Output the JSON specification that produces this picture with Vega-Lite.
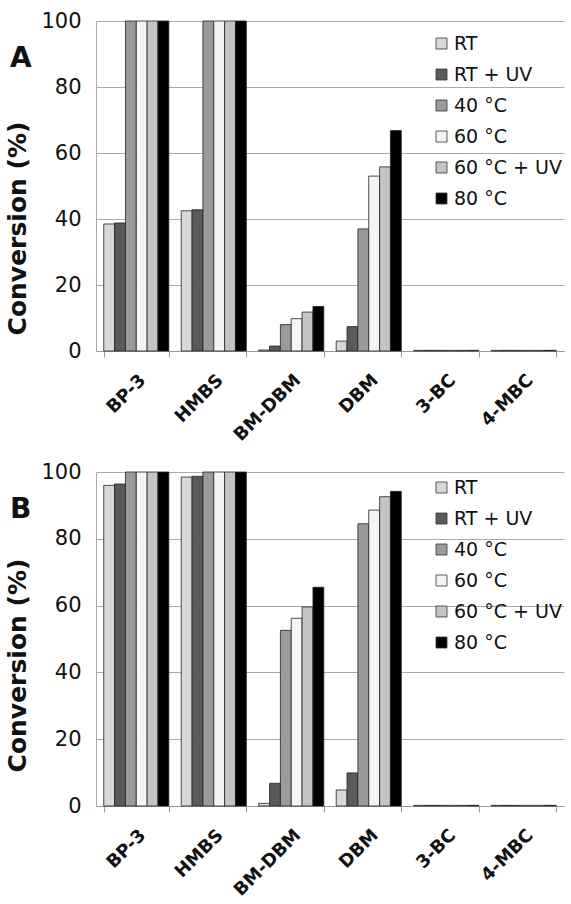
{
  "$schema": "https://vega.github.io/schema/vega-lite/v6.json",
  "padding": {"left": 5, "top": 10, "right": 2, "bottom": 2},
  "background": "white",
  "datasets": {
    "A": [
      {"compound": "BP-3", "condition": "RT", "value": 38.5},
      {"compound": "BP-3", "condition": "RT + UV", "value": 38.8},
      {"compound": "BP-3", "condition": "40 °C", "value": 100},
      {"compound": "BP-3", "condition": "60 °C", "value": 100},
      {"compound": "BP-3", "condition": "60 °C + UV", "value": 100},
      {"compound": "BP-3", "condition": "80 °C", "value": 100},
      {"compound": "HMBS", "condition": "RT", "value": 42.5},
      {"compound": "HMBS", "condition": "RT + UV", "value": 42.8},
      {"compound": "HMBS", "condition": "40 °C", "value": 100},
      {"compound": "HMBS", "condition": "60 °C", "value": 100},
      {"compound": "HMBS", "condition": "60 °C + UV", "value": 100},
      {"compound": "HMBS", "condition": "80 °C", "value": 100},
      {"compound": "BM-DBM", "condition": "RT", "value": 0.3},
      {"compound": "BM-DBM", "condition": "RT + UV", "value": 1.5},
      {"compound": "BM-DBM", "condition": "40 °C", "value": 8.0},
      {"compound": "BM-DBM", "condition": "60 °C", "value": 9.8},
      {"compound": "BM-DBM", "condition": "60 °C + UV", "value": 11.8},
      {"compound": "BM-DBM", "condition": "80 °C", "value": 13.5},
      {"compound": "DBM", "condition": "RT", "value": 3.0},
      {"compound": "DBM", "condition": "RT + UV", "value": 7.4},
      {"compound": "DBM", "condition": "40 °C", "value": 37.0},
      {"compound": "DBM", "condition": "60 °C", "value": 53.0},
      {"compound": "DBM", "condition": "60 °C + UV", "value": 55.8},
      {"compound": "DBM", "condition": "80 °C", "value": 66.8},
      {"compound": "3-BC", "condition": "RT", "value": 0.2},
      {"compound": "3-BC", "condition": "RT + UV", "value": 0.2},
      {"compound": "3-BC", "condition": "40 °C", "value": 0.2},
      {"compound": "3-BC", "condition": "60 °C", "value": 0.2},
      {"compound": "3-BC", "condition": "60 °C + UV", "value": 0.2},
      {"compound": "3-BC", "condition": "80 °C", "value": 0.2},
      {"compound": "4-MBC", "condition": "RT", "value": 0.2},
      {"compound": "4-MBC", "condition": "RT + UV", "value": 0.2},
      {"compound": "4-MBC", "condition": "40 °C", "value": 0.2},
      {"compound": "4-MBC", "condition": "60 °C", "value": 0.2},
      {"compound": "4-MBC", "condition": "60 °C + UV", "value": 0.2},
      {"compound": "4-MBC", "condition": "80 °C", "value": 0.2}
    ],
    "B": [
      {"compound": "BP-3", "condition": "RT", "value": 96.0},
      {"compound": "BP-3", "condition": "RT + UV", "value": 96.4},
      {"compound": "BP-3", "condition": "40 °C", "value": 100},
      {"compound": "BP-3", "condition": "60 °C", "value": 100},
      {"compound": "BP-3", "condition": "60 °C + UV", "value": 100},
      {"compound": "BP-3", "condition": "80 °C", "value": 100},
      {"compound": "HMBS", "condition": "RT", "value": 98.5},
      {"compound": "HMBS", "condition": "RT + UV", "value": 98.7},
      {"compound": "HMBS", "condition": "40 °C", "value": 100},
      {"compound": "HMBS", "condition": "60 °C", "value": 100},
      {"compound": "HMBS", "condition": "60 °C + UV", "value": 100},
      {"compound": "HMBS", "condition": "80 °C", "value": 100},
      {"compound": "BM-DBM", "condition": "RT", "value": 0.8},
      {"compound": "BM-DBM", "condition": "RT + UV", "value": 6.8},
      {"compound": "BM-DBM", "condition": "40 °C", "value": 52.6},
      {"compound": "BM-DBM", "condition": "60 °C", "value": 56.2},
      {"compound": "BM-DBM", "condition": "60 °C + UV", "value": 59.6},
      {"compound": "BM-DBM", "condition": "80 °C", "value": 65.5},
      {"compound": "DBM", "condition": "RT", "value": 4.8},
      {"compound": "DBM", "condition": "RT + UV", "value": 9.9},
      {"compound": "DBM", "condition": "40 °C", "value": 84.5},
      {"compound": "DBM", "condition": "60 °C", "value": 88.6},
      {"compound": "DBM", "condition": "60 °C + UV", "value": 92.6},
      {"compound": "DBM", "condition": "80 °C", "value": 94.2},
      {"compound": "3-BC", "condition": "RT", "value": 0.2},
      {"compound": "3-BC", "condition": "RT + UV", "value": 0.2},
      {"compound": "3-BC", "condition": "40 °C", "value": 0.2},
      {"compound": "3-BC", "condition": "60 °C", "value": 0.2},
      {"compound": "3-BC", "condition": "60 °C + UV", "value": 0.2},
      {"compound": "3-BC", "condition": "80 °C", "value": 0.2},
      {"compound": "4-MBC", "condition": "RT", "value": 0.2},
      {"compound": "4-MBC", "condition": "RT + UV", "value": 0.2},
      {"compound": "4-MBC", "condition": "40 °C", "value": 0.2},
      {"compound": "4-MBC", "condition": "60 °C", "value": 0.2},
      {"compound": "4-MBC", "condition": "60 °C + UV", "value": 0.2},
      {"compound": "4-MBC", "condition": "80 °C", "value": 0.2}
    ]
  },
  "spacing": 16,
  "resolve": {"scale": {"color": "independent"}, "legend": {"color": "independent"}},
  "vconcat": [
    {
      "data": {"name": "A"},
      "width": 468,
      "height": 330,
      "title": {"text": "A", "anchor": "start", "frame": "group", "dx": -86, "dy": 23, "fontSize": 28, "font": "DejaVu Sans", "fontWeight": "bold", "color": "#111", "offset": -40},
      "mark": {"type": "bar", "stroke": "#222", "strokeWidth": 0.8},
      "encoding": {
        "x": {"field": "compound", "type": "nominal", "sort": ["BP-3", "HMBS", "BM-DBM", "DBM", "3-BC", "4-MBC"], "scale": {"paddingInner": 0.16, "paddingOuter": 0.1}, "title": null},
        "xOffset": {"field": "condition", "type": "nominal", "sort": ["RT", "RT + UV", "40 °C", "60 °C", "60 °C + UV", "80 °C"], "scale": {"paddingInner": 0, "paddingOuter": 0}},
        "y": {"field": "value", "type": "quantitative", "scale": {"domain": [0, 100]}, "title": "Conversion (%)", "axis": {"values": [0, 20, 40, 60, 80, 100], "titleY": 207}},
        "color": {
          "field": "condition", "type": "nominal",
          "scale": {"domain": ["RT", "RT + UV", "40 °C", "60 °C", "60 °C + UV", "80 °C"], "range": ["#d8d8d8", "#5a5a5a", "#9a9a9a", "#f4f4f4", "#c4c4c4", "#000000"]},
          "legend": {"title": null, "orient": "none", "legendX": 336, "legendY": 13}
        }
      }
    },
    {
      "data": {"name": "B"},
      "width": 468,
      "height": 334,
      "title": {"text": "B", "anchor": "start", "frame": "group", "dx": -86, "dy": 23, "fontSize": 28, "font": "DejaVu Sans", "fontWeight": "bold", "color": "#111", "offset": -40},
      "mark": {"type": "bar", "stroke": "#222", "strokeWidth": 0.8},
      "encoding": {
        "x": {"field": "compound", "type": "nominal", "sort": ["BP-3", "HMBS", "BM-DBM", "DBM", "3-BC", "4-MBC"], "scale": {"paddingInner": 0.16, "paddingOuter": 0.1}, "title": null},
        "xOffset": {"field": "condition", "type": "nominal", "sort": ["RT", "RT + UV", "40 °C", "60 °C", "60 °C + UV", "80 °C"], "scale": {"paddingInner": 0, "paddingOuter": 0}},
        "y": {"field": "value", "type": "quantitative", "scale": {"domain": [0, 100]}, "title": "Conversion (%)", "axis": {"values": [0, 20, 40, 60, 80, 100], "titleY": 193}},
        "color": {
          "field": "condition", "type": "nominal",
          "scale": {"domain": ["RT", "RT + UV", "40 °C", "60 °C", "60 °C + UV", "80 °C"], "range": ["#d8d8d8", "#5a5a5a", "#9a9a9a", "#f4f4f4", "#c4c4c4", "#000000"]},
          "legend": {"title": null, "orient": "none", "legendX": 336, "legendY": 6}
        }
      }
    }
  ],
  "config": {
    "font": "DejaVu Sans",
    "view": {"stroke": null},
    "axisX": {"labelAngle": -45, "labelFontSize": 18, "labelFontWeight": "bold", "labelColor": "#111", "labelPadding": 14, "domainColor": "#999", "tickColor": "#999", "tickSize": 6, "tickBand": "extent", "grid": false},
    "axisY": {"labelFontSize": 21, "labelColor": "#111", "labelPadding": 15, "ticks": false, "domainColor": "#aaa", "gridColor": "#aaa", "gridWidth": 1, "titleFontSize": 25, "titleFontWeight": "bold", "titleColor": "#111", "titlePadding": 10},
    "legend": {"labelFontSize": 19, "labelColor": "#111", "symbolType": "square", "symbolSize": 121, "symbolStrokeColor": "#333", "symbolStrokeWidth": 0.8, "rowPadding": 11, "labelOffset": 3, "symbolOpacity": 1}
  }
}
